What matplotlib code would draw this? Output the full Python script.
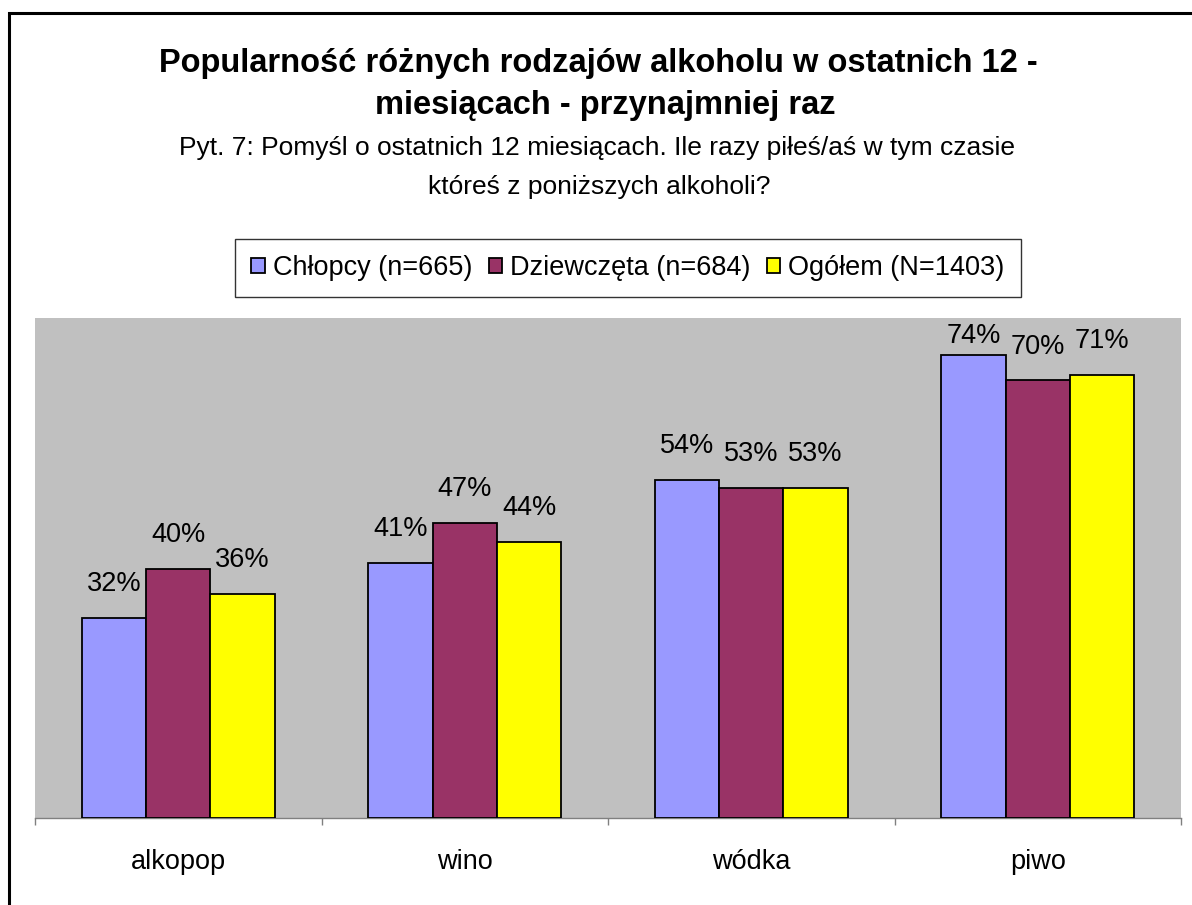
import matplotlib
matplotlib.use("Agg")
import matplotlib.pyplot as plt
from matplotlib.patches import Patch, Rectangle
import numpy as np

plt.rcParams['font.family'] = ['Liberation Sans', 'DejaVu Sans']

categories = ["alkopop", "wino", "wódka", "piwo"]
series_names = ["Chłopcy (n=665)", "Dziewczęta (n=684)", "Ogółem (N=1403)"]
chlopcy = [32.0, 40.8, 54.1, 74.0]
dziewczeta = [39.8, 47.2, 52.8, 70.0]
ogolem = [35.8, 44.2, 52.8, 70.8]
colors = ["#9999FF", "#993366", "#FFFF00"]

title_lines = ["Popularność różnych rodzajów alkoholu w ostatnich 12 -",
               "miesiącach - przynajmniej raz"]
subtitle_lines = ["Pyt. 7: Pomyśl o ostatnich 12 miesiącach. Ile razy piłeś/aś w tym czasie",
                  "któreś z poniższych alkoholi?"]

W, H = 1192, 905
fig = plt.figure(figsize=(W / 100, H / 100), dpi=100)
fig.patch.set_facecolor("white")

# outer border (left and top visible)
fig.add_artist(Rectangle((9 / W, -0.05), 1.2, 1 - 13 / H + 0.05, transform=fig.transFigure,
                         fill=False, edgecolor="black", linewidth=2.2))

ax = fig.add_axes([35 / W, 1 - 818 / H, (1181 - 35) / W, (818 - 318) / H])
ax.set_facecolor("#C0C0C0")
ymax = 80
ax.set_xlim(0, len(categories))
ax.set_ylim(0, ymax)

bw = 0.2245
x = np.arange(len(categories)) + 0.5
series = [chlopcy, dziewczeta, ogolem]
ax_h_px = 818 - 318
unit_px = ax_h_px / ymax
for i, (vals, c) in enumerate(zip(series, colors)):
    xs = x + (i - 1) * bw
    ax.bar(xs, vals, width=bw, color=c, edgecolor="black", linewidth=1.3, zorder=3)
    for xi, v in zip(xs, vals):
        base = v + 27 / unit_px
        cap = 20 / unit_px
        if base + cap > ymax - 5 / unit_px:
            base = ymax - 5 / unit_px - cap
        ax.text(xi, base, f"{round(v):d}%", ha="center", va="baseline",
                fontsize=19.5, color="black", zorder=4)

for s in ["top", "right", "left"]:
    ax.spines[s].set_visible(False)
ax.spines["bottom"].set_color("#808080")
ax.spines["bottom"].set_linewidth(1.0)
ax.set_yticks([])
ax.set_xticks(np.arange(len(categories) + 1))
ax.set_xticklabels([])
ax.tick_params(axis="x", which="major", length=5, color="#808080", width=1.0)
ax.set_xticks(x, minor=True)
ax.set_xticklabels(categories, minor=True, fontsize=19.5)
ax.tick_params(axis="x", which="minor", length=0, pad=22)

fig.text(598 / W, 1 - 72 / H, title_lines[0], ha="center", va="baseline",
         fontsize=23.5, fontweight="bold")
fig.text(605 / W, 1 - 114 / H, title_lines[1], ha="center", va="baseline",
         fontsize=23.5, fontweight="bold")
fig.text(597 / W, 1 - 155 / H, subtitle_lines[0], ha="center", va="baseline",
         fontsize=19)
fig.text(599 / W, 1 - 194 / H, subtitle_lines[1], ha="center", va="baseline",
         fontsize=19)

handles = [Patch(facecolor=c, edgecolor="black", linewidth=1.3) for c in colors]
leg = fig.legend(handles, series_names, loc="center", bbox_to_anchor=(628 / W, 1 - 268 / H),
                 ncol=3, fontsize=19.5, frameon=True, fancybox=False, shadow=False,
                 handlelength=0.5, handleheight=0.5, handletextpad=0.3, columnspacing=0.6,
                 borderpad=0.6, borderaxespad=0)
leg.get_frame().set_edgecolor("black")
leg.get_frame().set_linewidth(1.0)

fig.savefig("out.png", dpi=100)
